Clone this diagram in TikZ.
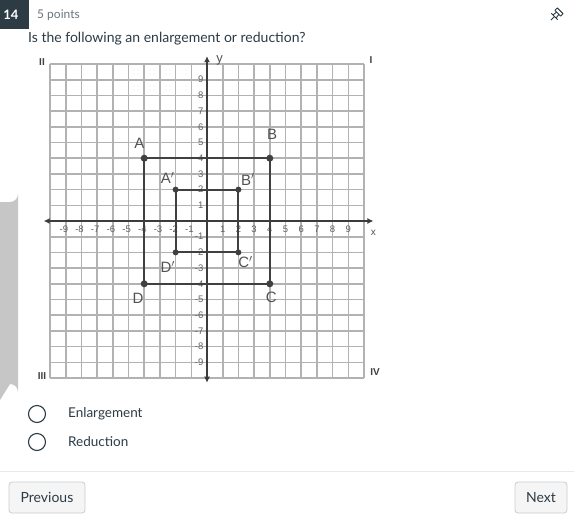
\documentclass[tikz,border=0pt]{standalone}
\usepackage{fontspec}
\setmainfont{Lato}
\newfontfamily\handfont{Liberation Sans}
\usetikzlibrary{arrows.meta}
\definecolor{navy}{HTML}{2D3B45}
\definecolor{mutedtxt}{HTML}{6B7780}
\definecolor{gridc}{HTML}{B2B2B2}
\definecolor{axisc}{HTML}{3C3C3C}
\definecolor{rectc}{HTML}{404040}
\definecolor{btnborder}{HTML}{C7CDD1}
\definecolor{btnfill}{HTML}{F5F5F5}
\definecolor{sepc}{HTML}{E6E8EA}
\definecolor{tabc}{HTML}{C6C6C6}
\tikzset{
  px/.style={font=\fontsize{#1}{#1}\selectfont},
  gridline/.style={draw=gridc, line width=1.6pt},
  axisline/.style={draw=axisc, line width=1.8pt, {Latex[length=6pt,width=6pt]}-{Latex[length=6pt,width=6pt]}},
  rectline/.style={draw=rectc, line width=2pt},
  vdot/.style={circle, fill=rectc, inner sep=0pt, minimum size=7pt},
  ticklab/.style={text=black!62, font=\handfont\fontsize{9.5}{9.5}\selectfont, inner sep=0pt},
  ptlab/.style={text=black!68, font=\handfont\fontsize{15}{15}\selectfont, inner sep=0pt},
  quadlab/.style={text=black!75, font=\handfont\bfseries\fontsize{10}{10}\selectfont, inner sep=0pt},
  radio/.style={circle, draw=navy, line width=1.1pt, minimum size=17pt, inner sep=0pt},
  btn/.style={draw=btnborder, fill=btnfill, rounded corners=3pt, line width=0.8pt, text=navy, font=\fontsize{14}{14}\selectfont, inner sep=0pt}
}
\begin{document}
\begin{tikzpicture}[x=1pt,y=-1pt]
\useasboundingbox (0,0) rectangle (574,523);
\fill[white] (0,0) rectangle (574,523);
% header
\fill[navy] (0,0) rectangle (29,29);
\node[text=white, font=\bfseries\fontsize{13}{13}\selectfont, inner sep=0pt] (qnum) at (11,15) {14};
\node[text=mutedtxt, px=12, anchor=west, inner sep=0pt] (pts) at (37,15) {5 points};
\node[text=navy, px=14, anchor=west, inner sep=0pt] (question) at (28,39) {Is the following an enlargement or reduction?};
% pin icon
\begin{scope}[shift={(551,20)}, rotate=45, line width=0.9pt, draw=navy]
  \draw[navy] (0,0) -- (5,0);
  \draw[navy, line join=round] (5,-4.5) -- (5,4.5) (5,-2.2) -- (9.5,-1.6) -- (9.5,1.6) -- (5,2.2)
        (9.5,-4) -- (13,-4) -- (13,4) -- (9.5,4) -- cycle;
\end{scope}
% left tab
\fill[tabc] (0,202) -- (10,202) arc[start angle=90, end angle=0, radius=8] -- (18,392) arc[start angle=0, end angle=-90, radius=8] -- (0,400) -- cycle;
% graph
\begin{scope}[shift={(207,221)}, x=15.7pt, y=15.7pt]
  \draw[gridline, step={(1,1)}] (-10,-10) grid (10,10);
  \foreach \i in {-9,...,-1} {
    \node[ticklab] (xl\i) at (\i-0.12,-0.55) {-\the\numexpr-\i\relax};
    \node[ticklab, anchor=east] (yl\i) at (-0.22,\i) {-\the\numexpr-\i\relax};
  }
  \foreach \i in {1,...,9} {
    \node[ticklab] (xl\i) at (\i,-0.55) {\i};
    \node[ticklab, anchor=east] (yl\i) at (-0.22,\i) {\i};
  }
  \draw[axisline] (-10.4,0) -- (10.6,0);
  \draw[axisline] (0,-10.3) -- (0,10.5);
  \node[ptlab, font=\handfont\fontsize{13}{13}\selectfont] (ylab) at (0.8,10.2) {y};
  \node[ptlab, font=\handfont\fontsize{10}{10}\selectfont] (xlab) at (10.6,-0.75) {x};
  % points
  \node[vdot] (A) at (-4,4) {};
  \node[vdot] (B) at (4,4) {};
  \node[vdot] (C) at (4,-4) {};
  \node[vdot] (D) at (-4,-4) {};
  \node[vdot, minimum size=6pt] (A1) at (-2,2) {};
  \node[vdot, minimum size=6pt] (B1) at (2,2) {};
  \node[vdot, minimum size=6pt] (C1) at (2,-2) {};
  \node[vdot, minimum size=6pt] (D1) at (-2,-2) {};
  \draw[rectline] (A.center) -- (B.center);
  \draw[rectline] (B.center) -- (C.center);
  \draw[rectline] (C.center) -- (D.center);
  \draw[rectline] (D.center) -- (A.center);
  \draw[rectline] (A1.center) -- (B1.center);
  \draw[rectline] (B1.center) -- (C1.center);
  \draw[rectline] (C1.center) -- (D1.center);
  \draw[rectline] (D1.center) -- (A1.center);
  % labels
  \node[ptlab] (lA) at (-4.3,4.97) {A};
  \node[ptlab] (lB) at (4.15,5.5) {B};
  \node[ptlab] (lC) at (4.1,-4.85) {C};
  \node[ptlab] (lD) at (-4.4,-4.9) {D};
  \node[ptlab] (lA1) at (-2.5,2.75) {A$'$};
  \node[ptlab] (lB1) at (2.6,2.65) {B$'$};
  \node[ptlab] (lC1) at (2.45,-2.6) {C$'$};
  \node[ptlab] (lD1) at (-2.5,-2.95) {D$'$};
\end{scope}
\node[quadlab] (q2) at (42,62) {II};
\node[quadlab] (q1) at (371,60) {I};
\node[quadlab] (q3) at (42,376) {III};
\node[quadlab] (q4) at (375,372) {IV};
% options
\node[radio] (r1) at (37,414) {};
\node[radio] (r2) at (37,442) {};
\node[text=navy, px=13.5, anchor=west, inner sep=0pt] (o1) at (68,414) {Enlargement};
\node[text=navy, px=13.5, anchor=west, inner sep=0pt] (o2) at (68,442) {Reduction};
% separator and buttons
\draw[sepc, line width=1pt] (0,471) -- (574,471);
\node[btn, minimum width=76pt, minimum height=31pt] (prev) at (47,497.5) {Previous};
\node[btn, minimum width=52pt, minimum height=31pt] (next) at (541,497.5) {Next};
\end{tikzpicture}
\end{document}
